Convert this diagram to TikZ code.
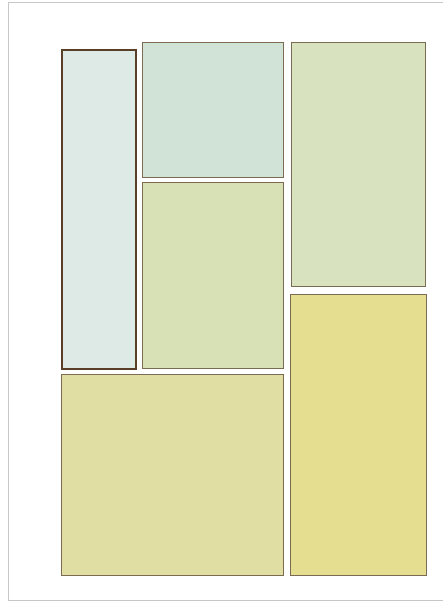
\documentclass[tikz,border=0pt]{standalone}
\begin{document}
\begin{tikzpicture}[x=1pt,y=-1pt,
  panel/.style={draw=#1, line width=1.2pt},
  frameline/.style={draw=black!22, line width=1pt}]
\definecolor{cA}{HTML}{DEEAE6}
\definecolor{cB}{HTML}{D1E3D7}
\definecolor{cC}{HTML}{D8E0B5}
\definecolor{cD}{HTML}{D8E2BF}
\definecolor{cE}{HTML}{E5DE91}
\definecolor{cF}{HTML}{E0DEA3}
\definecolor{edge}{HTML}{7A6B52}
\definecolor{dark}{HTML}{5A3F28}
\useasboundingbox (0,0) rectangle (443,603);
\fill[white] (0,0) rectangle (443,603);
\draw[frameline] (446,2.5) -- (8.5,2.5) -- (8.5,600.5) -- (446,600.5);
\node[fill=cA, draw=dark, line width=2.4pt, inner sep=0pt, minimum width=74pt, minimum height=319pt, anchor=north west] (a) at (61,48.5) {};
\node[fill=cB, panel=edge, inner sep=0pt, minimum width=141pt, minimum height=135pt, anchor=north west] (b) at (141.5,42) {};
\node[fill=cC, panel=edge, inner sep=0pt, minimum width=141pt, minimum height=186pt, anchor=north west] (c) at (141.5,181.5) {};
\node[fill=cD, panel=edge, inner sep=0pt, minimum width=134pt, minimum height=244pt, anchor=north west] (d) at (290.5,42) {};
\node[fill=cE, panel=edge, inner sep=0pt, minimum width=136pt, minimum height=281pt, anchor=north west] (e) at (290,293.5) {};
\node[fill=cF, panel=edge, inner sep=0pt, minimum width=222pt, minimum height=201pt, anchor=north west] (f) at (60.5,374) {};
\end{tikzpicture}
\end{document}
